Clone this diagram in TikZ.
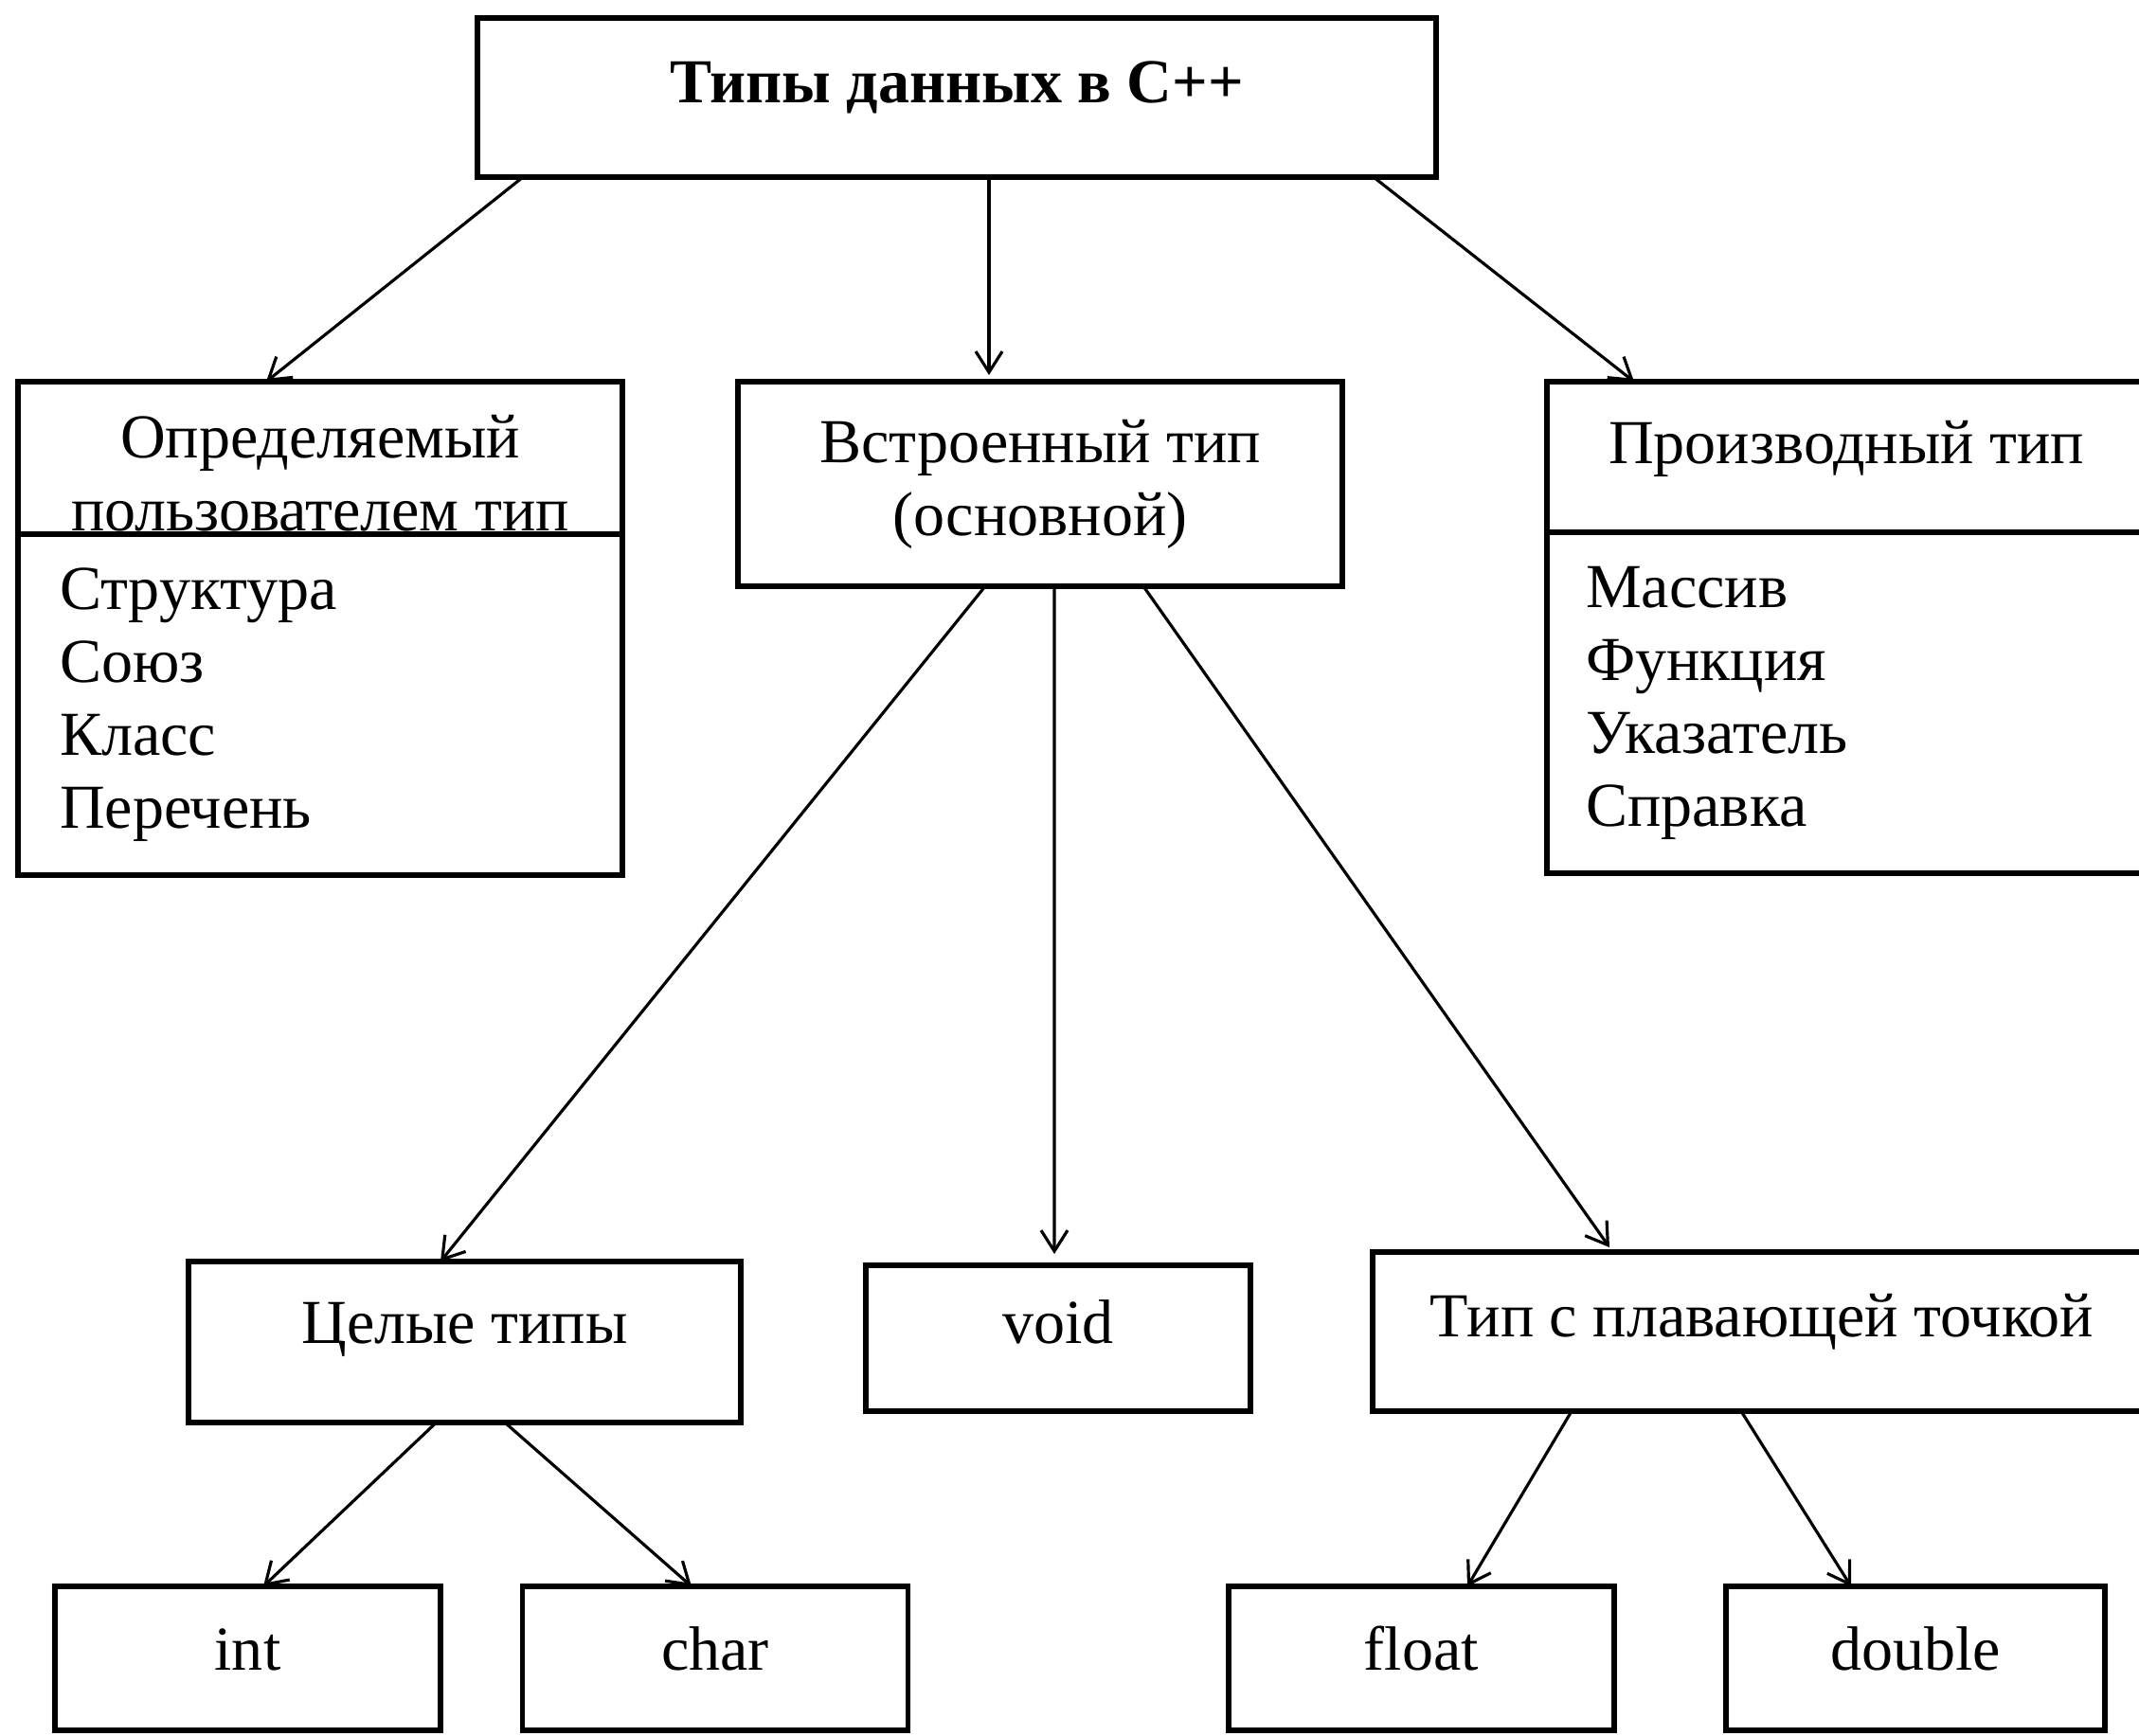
\documentclass[tikz,border=0pt]{standalone}
\usepackage{fontspec}
\setmainfont{Liberation Serif}
\usetikzlibrary{positioning,arrows.meta}

\tikzset{
  box/.style={draw, line width=1.6pt, inner sep=0pt, outer sep=0pt,
    font=\fontsize{18.8}{21.9}\selectfont},
  lift/.style={text height=12pt, text depth=#1},
  lift/.default=9pt,
  leaf/.style={box, lift=5pt, minimum width=4.07cm, minimum height=1.52cm},
  items/.style={align=left, text width=5.5cm, inner xsep=0.41cm},
  arr/.style={->, line width=0.9pt}
}

\begin{document}
\begin{tikzpicture}[>={Straight Barb[length=2.2mm,width=2.8mm]}]
\useasboundingbox (0,0) rectangle (22.58,-18.32);
% root
\node[box, lift, minimum width=10.12cm, minimum height=1.68cm,
  font=\fontsize{18.8}{21.9}\selectfont\bfseries] (types) at (10.10,-1.03) {Типы данных в С++};
% second level
\node[box, align=center, text height=1.57cm, text depth=0.04cm, minimum width=6.38cm, minimum height=1.61cm]
  (user) at (3.38,-4.835) {Определяемый\\пользователем тип};
\node[box, items, minimum width=6.38cm, minimum height=3.60cm, below=0pt of user] (userlist)
  {Структура\\Союз\\Класс\\Перечень};
\node[box, align=center, minimum width=6.38cm, minimum height=2.16cm] (builtin) at (10.98,-5.11)
  {Встроенный тип\\(основной)};
\node[box, lift=8pt, minimum width=6.32cm, minimum height=1.59cm] (derived) at (19.49,-4.825)
  {Производный тип};
\node[box, items, minimum width=6.32cm, minimum height=3.60cm, below=0pt of derived] (derivedlist)
  {Массив\\Функция\\Указатель\\Справка};
% third level
\node[box, lift=11pt, minimum width=5.83cm, minimum height=1.70cm] (integer) at (4.905,-14.17) {Целые типы};
\node[box, lift, minimum width=4.06cm, minimum height=1.54cm] (void) at (11.17,-14.13) {void};
\node[box, lift, minimum width=8.22cm, minimum height=1.68cm] (floating) at (18.60,-14.06)
  {Тип с плавающей точкой};
% leaves
\node[leaf] (int) at (2.615,-17.51) {int};
\node[leaf] (char) at (7.55,-17.51) {char};
\node[leaf] (flt) at (15.005,-17.51) {float};
\node[leaf, minimum width=4.0cm] (dbl) at (20.22,-17.51) {double};

\draw[arr] ([xshift=-4.58cm]types.south) -- ([xshift=-0.57cm]user.north);
\draw[arr] ([xshift=0.34cm]types.south) -- ([xshift=-0.54cm,yshift=0.07cm]builtin.north);
\draw[arr] ([xshift=4.40cm]types.south) -- ([xshift=-2.24cm]derived.north);
\draw[arr] ([xshift=-0.58cm]builtin.south) -- ([xshift=-0.255cm]integer.north);
\draw[arr] ([xshift=0.15cm]builtin.south) -- ([xshift=-0.04cm,yshift=0.12cm]void.north);
\draw[arr] ([xshift=1.09cm]builtin.south) -- ([xshift=-1.61cm,yshift=0.05cm]floating.north);
\draw[arr] ([xshift=-0.30cm]integer.south) -- ([xshift=0.165cm]int.north);
\draw[arr] ([xshift=0.425cm]integer.south) -- ([xshift=-0.25cm]char.north);
\draw[arr] ([xshift=-2.01cm]floating.south) -- ([xshift=0.485cm]flt.north);
\draw[arr] ([xshift=-0.22cm]floating.south) -- ([xshift=-0.68cm]dbl.north);
\end{tikzpicture}
\end{document}
